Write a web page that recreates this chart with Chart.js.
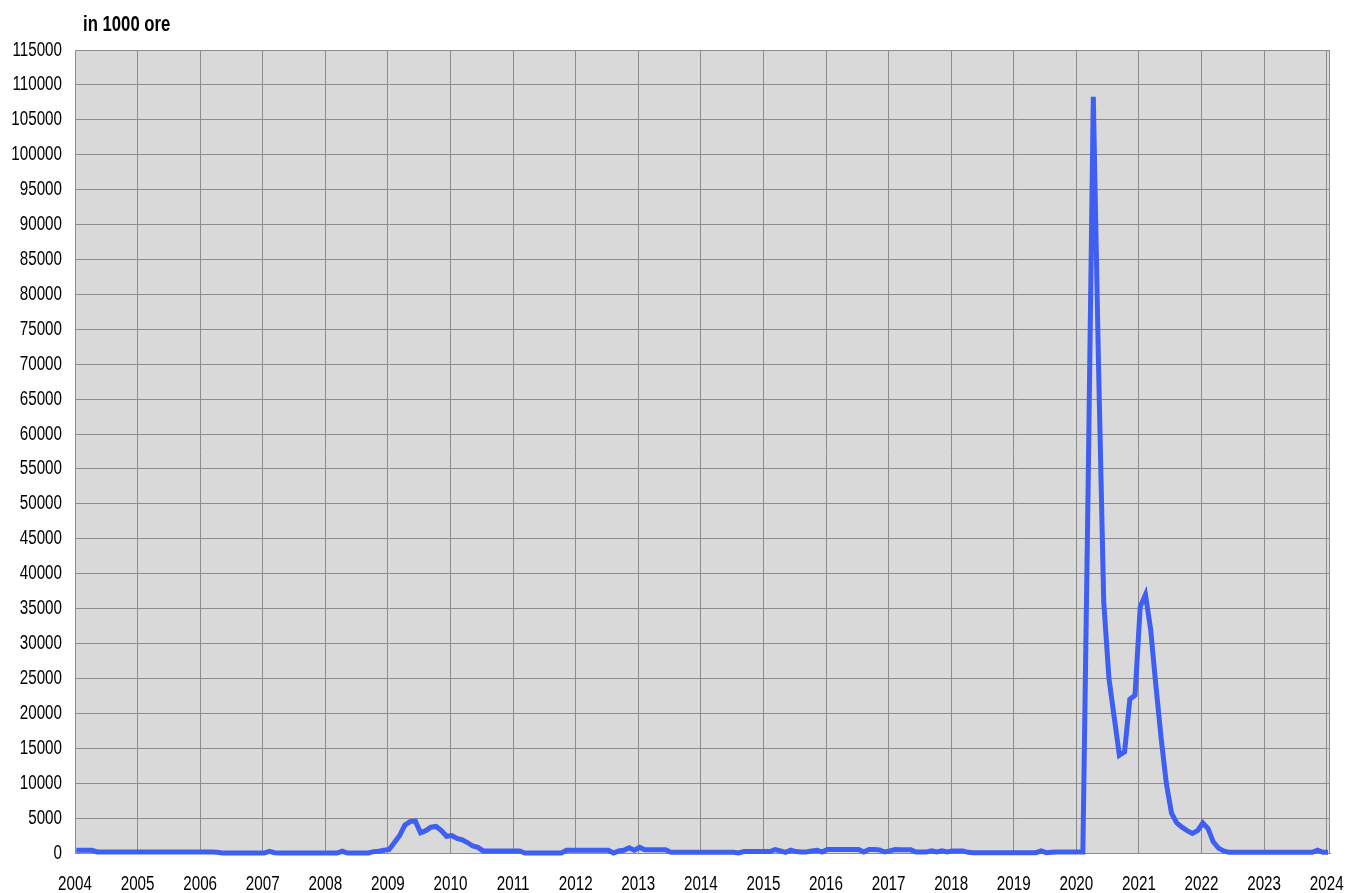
<!DOCTYPE html>
<html>
<head>
<meta charset="utf-8">
<title>in 1000 ore</title>
<script src="https://cdn.jsdelivr.net/npm/chart.js@4.4.1/dist/chart.umd.min.js"></script>
<style>
  html, body { margin: 0; padding: 0; background: #fff; }
  #wrap { width: 1349px; height: 893px; }
</style>
</head>
<body>
<div id="wrap"><canvas id="canvas"></canvas></div>
<script>
// monthly values, Jan 2004 .. Jan 2024 (in 1000 ore)
const startYear = 2004;
const v2004 = [400, 400, 400, 400, 150, 150, 150, 150, 150, 150, 150, 150];
const v2005 = [150, 150, 150, 150, 150, 150, 150, 150, 150, 150, 150, 150];
const v2006 = [150, 150, 150, 100, 0, 0, 0, 0, 0, 0, 0, 0];
const v2007 = [0, 250, 50, 0, 0, 0, 0, 0, 0, 0, 0, 0];
const v2008 = [0, 0, 0, 250, 0, 0, 0, 0, 0, 200, 250, 400];
const v2009 = [500, 1500, 2500, 4000, 4500, 4600, 2900, 3200, 3700, 3800, 3200, 2400];
const v2010 = [2500, 2100, 1900, 1500, 1000, 800, 300, 300, 300, 300, 300, 300];
const v2011 = [300, 300, 0, 0, 0, 0, 0, 0, 0, 0, 400, 400];
const v2012 = [400, 400, 400, 400, 400, 400, 400, 0, 300, 400, 750, 400];
const v2013 = [800, 450, 450, 450, 450, 450, 100, 100, 100, 100, 100, 100];
const v2014 = [100, 100, 100, 100, 100, 100, 100, 0, 200, 200, 200, 200];
const v2015 = [200, 200, 500, 300, 100, 400, 200, 150, 150, 300, 400, 150];
const v2016 = [500, 500, 500, 500, 500, 500, 500, 150, 500, 500, 450, 150];
const v2017 = [300, 500, 450, 450, 450, 150, 150, 150, 300, 150, 300, 150];
const v2018 = [300, 300, 300, 100, 50, 50, 50, 50, 50, 50, 50, 50];
const v2019 = [50, 50, 50, 50, 50, 300, 50, 100, 150, 150, 150, 150];
const v2020 = [150, 150, 52000, 108300, 70000, 36000, 25000, 19500, 14000, 14500, 22000, 22600];
const v2021 = [35300, 37000, 32000, 24000, 16500, 10000, 5700, 4300, 3700, 3200, 2800, 3200];
const v2022 = [4300, 3500, 1600, 700, 300, 100, 100, 100, 100, 100, 100, 100];
const v2023 = [100, 100, 100, 100, 100, 100, 100, 100, 100, 100, 400, 100];
const v2024 = [100];

const yearTicks = [2004, 2005, 2006, 2007, 2008, 2009, 2010, 2011, 2012, 2013, 2014,
                   2015, 2016, 2017, 2018, 2019, 2020, 2021, 2022, 2023, 2024];
const yMax = 115000;
const yStep = 5000;
const unitLabel = 'in 1000 ore';

const monthly = [].concat(v2004, v2005, v2006, v2007, v2008, v2009, v2010, v2011, v2012,
  v2013, v2014, v2015, v2016, v2017, v2018, v2019, v2020, v2021, v2022, v2023, v2024);
// values are dated about a week into each month
const points = monthly.map((v, i) => ({ x: startYear + (i + 0.25) / 12, y: v }));

const gridGray = '#8c8c8c';
const sans = "'Liberation Sans', Arial, sans-serif";

// the original uses a narrow face; squeeze text horizontally around its anchor
const narrowText = {
  id: 'narrowText',
  beforeDraw(chart) {
    const c = chart.ctx;
    if (c._narrow) return;
    const orig = c.fillText;
    c.fillText = function(t, x, y, w) {
      this.save();
      this.translate(x, y);
      this.scale(0.76, 1);
      orig.call(this, t, 0, 0, w);
      this.restore();
    };
    c._narrow = true;
  }
};

// plot background, right border and the unit label
const frame = {
  id: 'frame',
  beforeDraw(chart) {
    const { ctx, chartArea: a } = chart;
    ctx.save();
    ctx.fillStyle = '#d9d9d9';
    ctx.fillRect(a.left, a.top, a.right - a.left, a.bottom - a.top);
    ctx.restore();
  },
  afterDatasetsDraw(chart) {
    const { ctx, chartArea: a } = chart;
    ctx.save();
    ctx.strokeStyle = gridGray;
    ctx.lineWidth = 1;
    ctx.beginPath();
    ctx.moveTo(a.right - 0.5, a.top);
    ctx.lineTo(a.right - 0.5, a.bottom);
    ctx.stroke();
    ctx.fillStyle = '#000';
    ctx.font = "bold 22px " + sans;
    ctx.textAlign = 'left';
    ctx.textBaseline = 'alphabetic';
    ctx.fillText(unitLabel, 83, 31);
    ctx.restore();
  }
};

const ctx = document.getElementById('canvas');

new Chart(ctx, {
  type: 'line',
  data: {
    datasets: [{
      data: points,
      borderColor: '#3f5ef2',
      borderWidth: 5,
      pointRadius: 0,
      tension: 0,
      clip: { left: 0, right: 3, top: 5, bottom: 5 }
    }]
  },
  options: {
    responsive: true,
    maintainAspectRatio: false,
    animation: false,
    layout: { padding: { top: 50, right: 19, bottom: 0, left: 0 } },
    plugins: {
      legend: { display: false },
      tooltip: { enabled: false }
    },
    scales: {
      x: {
        type: 'linear',
        min: yearTicks[0],
        max: 2024.053,
        afterFit: s => { s.height = 40; s.paddingLeft = 0; s.paddingRight = 0; },
        afterBuildTicks: s => { s.ticks = yearTicks.map(v => ({ value: v })); },
        grid: { color: gridGray, lineWidth: 1, drawTicks: false },
        border: { color: gridGray, width: 1 },
        ticks: {
          autoSkip: false,
          maxRotation: 0,
          padding: 19,
          color: '#000',
          font: { family: sans, size: 20 },
          callback: v => String(v)
        }
      },
      y: {
        min: 0,
        max: yMax,
        afterFit: s => { s.width = 75; s.paddingTop = 0; s.paddingBottom = 0; },
        grid: { color: gridGray, lineWidth: 1, drawTicks: false },
        border: { color: gridGray, width: 1 },
        ticks: {
          stepSize: yStep,
          padding: 13,
          color: '#000',
          font: { family: sans, size: 20 },
          callback: v => String(v)
        }
      }
    }
  },
  plugins: [narrowText, frame]
});
</script>
</body>
</html>
